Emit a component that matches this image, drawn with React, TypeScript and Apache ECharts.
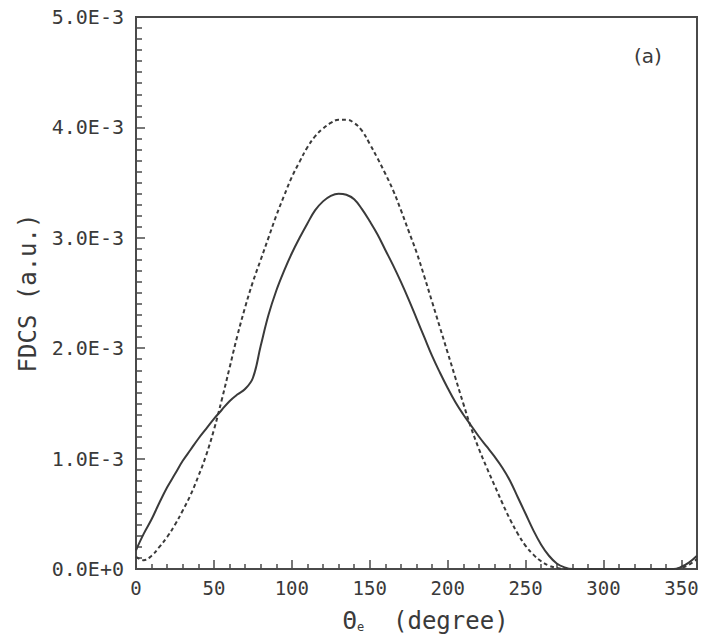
import React, { useEffect, useRef } from "react";
import * as echarts from "echarts";

// Scattering angle (degree)
const theta: number[] = [
  0, 5, 10, 15, 20, 25, 30, 35, 40, 45, 50, 55, 60, 65, 70, 75, 80, 85, 90, 95,
  100, 105, 110, 115, 120, 125, 130, 135, 140, 145, 150, 155, 160, 165, 170, 175,
  180, 185, 190, 195, 200, 205, 210, 215, 220, 225, 230, 235, 240, 245, 250, 255,
  260, 265, 270, 275, 280, 285, 290, 295, 300, 305, 310, 315, 320, 325, 330, 335,
  340, 345, 350, 355, 360,
];

// FDCS solid curve (units of 1E-3 a.u.)
const solidE3: number[] = [
  0.17, 0.32, 0.45, 0.6, 0.74, 0.86, 0.98, 1.08, 1.18, 1.27, 1.36, 1.44, 1.52, 1.58, 1.63, 1.73, 2.02, 2.3, 2.52, 2.7,
  2.86, 3.0, 3.13, 3.25, 3.33, 3.38, 3.4, 3.39, 3.35, 3.26, 3.15, 3.03, 2.89, 2.75, 2.6, 2.44,
  2.27, 2.1, 1.93, 1.78, 1.64, 1.51, 1.4, 1.3, 1.2, 1.11, 1.02, 0.92, 0.8, 0.65, 0.5, 0.35,
  0.22, 0.12, 0.05, 0.015, 0, 0, 0, 0, 0, 0, 0, 0, 0, 0, 0, 0,
  0, 0, 0.02, 0.06, 0.12,
];

// FDCS dashed curve (units of 1E-3 a.u.)
const dashedE3: number[] = [
  0.11, 0.08, 0.12, 0.2, 0.29, 0.4, 0.53, 0.67, 0.84, 1.03, 1.26, 1.53, 1.82, 2.11, 2.37, 2.6, 2.8, 3.0, 3.2, 3.38,
  3.55, 3.69, 3.82, 3.92, 3.99, 4.04, 4.07, 4.07, 4.04, 3.97, 3.85, 3.72, 3.58, 3.43, 3.25, 3.06,
  2.87, 2.65, 2.42, 2.19, 1.96, 1.73, 1.5, 1.28, 1.09, 0.92, 0.76, 0.6, 0.45, 0.32, 0.21, 0.13,
  0.07, 0.03, 0.01, 0, 0, 0, 0, 0, 0, 0, 0, 0, 0, 0, 0, 0,
  0, 0, 0.01, 0.04, 0.09,
];

const UNIT = 1e-3;
const panelLabel = "(a)";
const yTitle = "FDCS (a.u.)";

export default function App() {
  const ref = useRef<HTMLDivElement>(null);
  useEffect(() => {
    document.body.style.margin = "0";
    const chart = echarts.init(ref.current!, null, { renderer: "svg" });
    const ink = "#3a3a3a";
    const font = "DejaVu Sans Mono";
    const toPairs = (ys: number[]) => theta.map((t, i) => [t, ys[i] * UNIT]);
    chart.setOption({
      animation: false,
      backgroundColor: "#ffffff",
      grid: {
        left: 136,
        right: 5,
        top: 17,
        bottom: 73,
        show: true,
        borderColor: "#4a4a4a",
        borderWidth: 2,
      },
      xAxis: {
        type: "value",
        min: 0,
        max: 360,
        interval: 50,
        name: "{t|Θ}{s|e}{t|  (degree)}",
        nameLocation: "middle",
        nameGap: 40,
        nameTextStyle: {
          rich: {
            t: { fontFamily: font, fontSize: 24, color: ink },
            s: { fontFamily: font, fontSize: 12, color: ink, padding: [12, 0, 0, 0] },
          },
          padding: [0, 0, 0, 18],
        },
        axisLine: { show: true, lineStyle: { color: "#4a4a4a", width: 2 } },
        axisTick: { show: true, inside: true, length: 9, lineStyle: { color: "#4a4a4a", width: 1.5 } },
        minorTick: { show: true, splitNumber: 5, length: 5, lineStyle: { color: "#4a4a4a", width: 1.5 } },
        splitLine: { show: false },
        minorSplitLine: { show: false },
        axisLabel: {
          showMaxLabel: false,
          margin: 9,
          fontFamily: font,
          fontSize: 19,
          color: ink,
        },
      },
      yAxis: {
        type: "value",
        min: 0,
        max: 5 * UNIT,
        interval: 1 * UNIT,
        name: yTitle,
        nameLocation: "middle",
        nameGap: 96,
        nameTextStyle: { fontFamily: font, fontSize: 24, color: ink },
        axisLine: { show: true, lineStyle: { color: "#4a4a4a", width: 2 } },
        axisTick: { show: true, inside: true, length: 9, lineStyle: { color: "#4a4a4a", width: 1.5 } },
        minorTick: { show: true, splitNumber: 10, length: 6, lineStyle: { color: "#4a4a4a", width: 1.5 } },
        splitLine: { show: false },
        minorSplitLine: { show: false },
        axisLabel: {
          margin: 12,
          fontFamily: font,
          fontSize: 20,
          color: ink,
          formatter: (v: number) => (Math.abs(v) < 1e-12 ? "0.0E+0" : (v / UNIT).toFixed(1) + "E-3"),
        },
      },
      graphic: [
        {
          type: "text",
          left: 634,
          top: 46,
          style: { text: panelLabel, fontFamily: "DejaVu Sans", fontSize: 20, fill: ink },
        },
      ],
      series: [
        {
          name: "solid",
          type: "line",
          data: toPairs(solidE3),
          smooth: 0.4,
          showSymbol: false,
          lineStyle: { color: ink, width: 2, type: "solid" },
        },
        {
          name: "dashed",
          type: "line",
          data: toPairs(dashedE3),
          smooth: 0.4,
          showSymbol: false,
          lineStyle: { color: ink, width: 2, type: [4, 3] },
        },
      ],
    });
    return () => chart.dispose();
  }, []);
  return <div ref={ref} style={{ width: 702, height: 642 }} />;
}
